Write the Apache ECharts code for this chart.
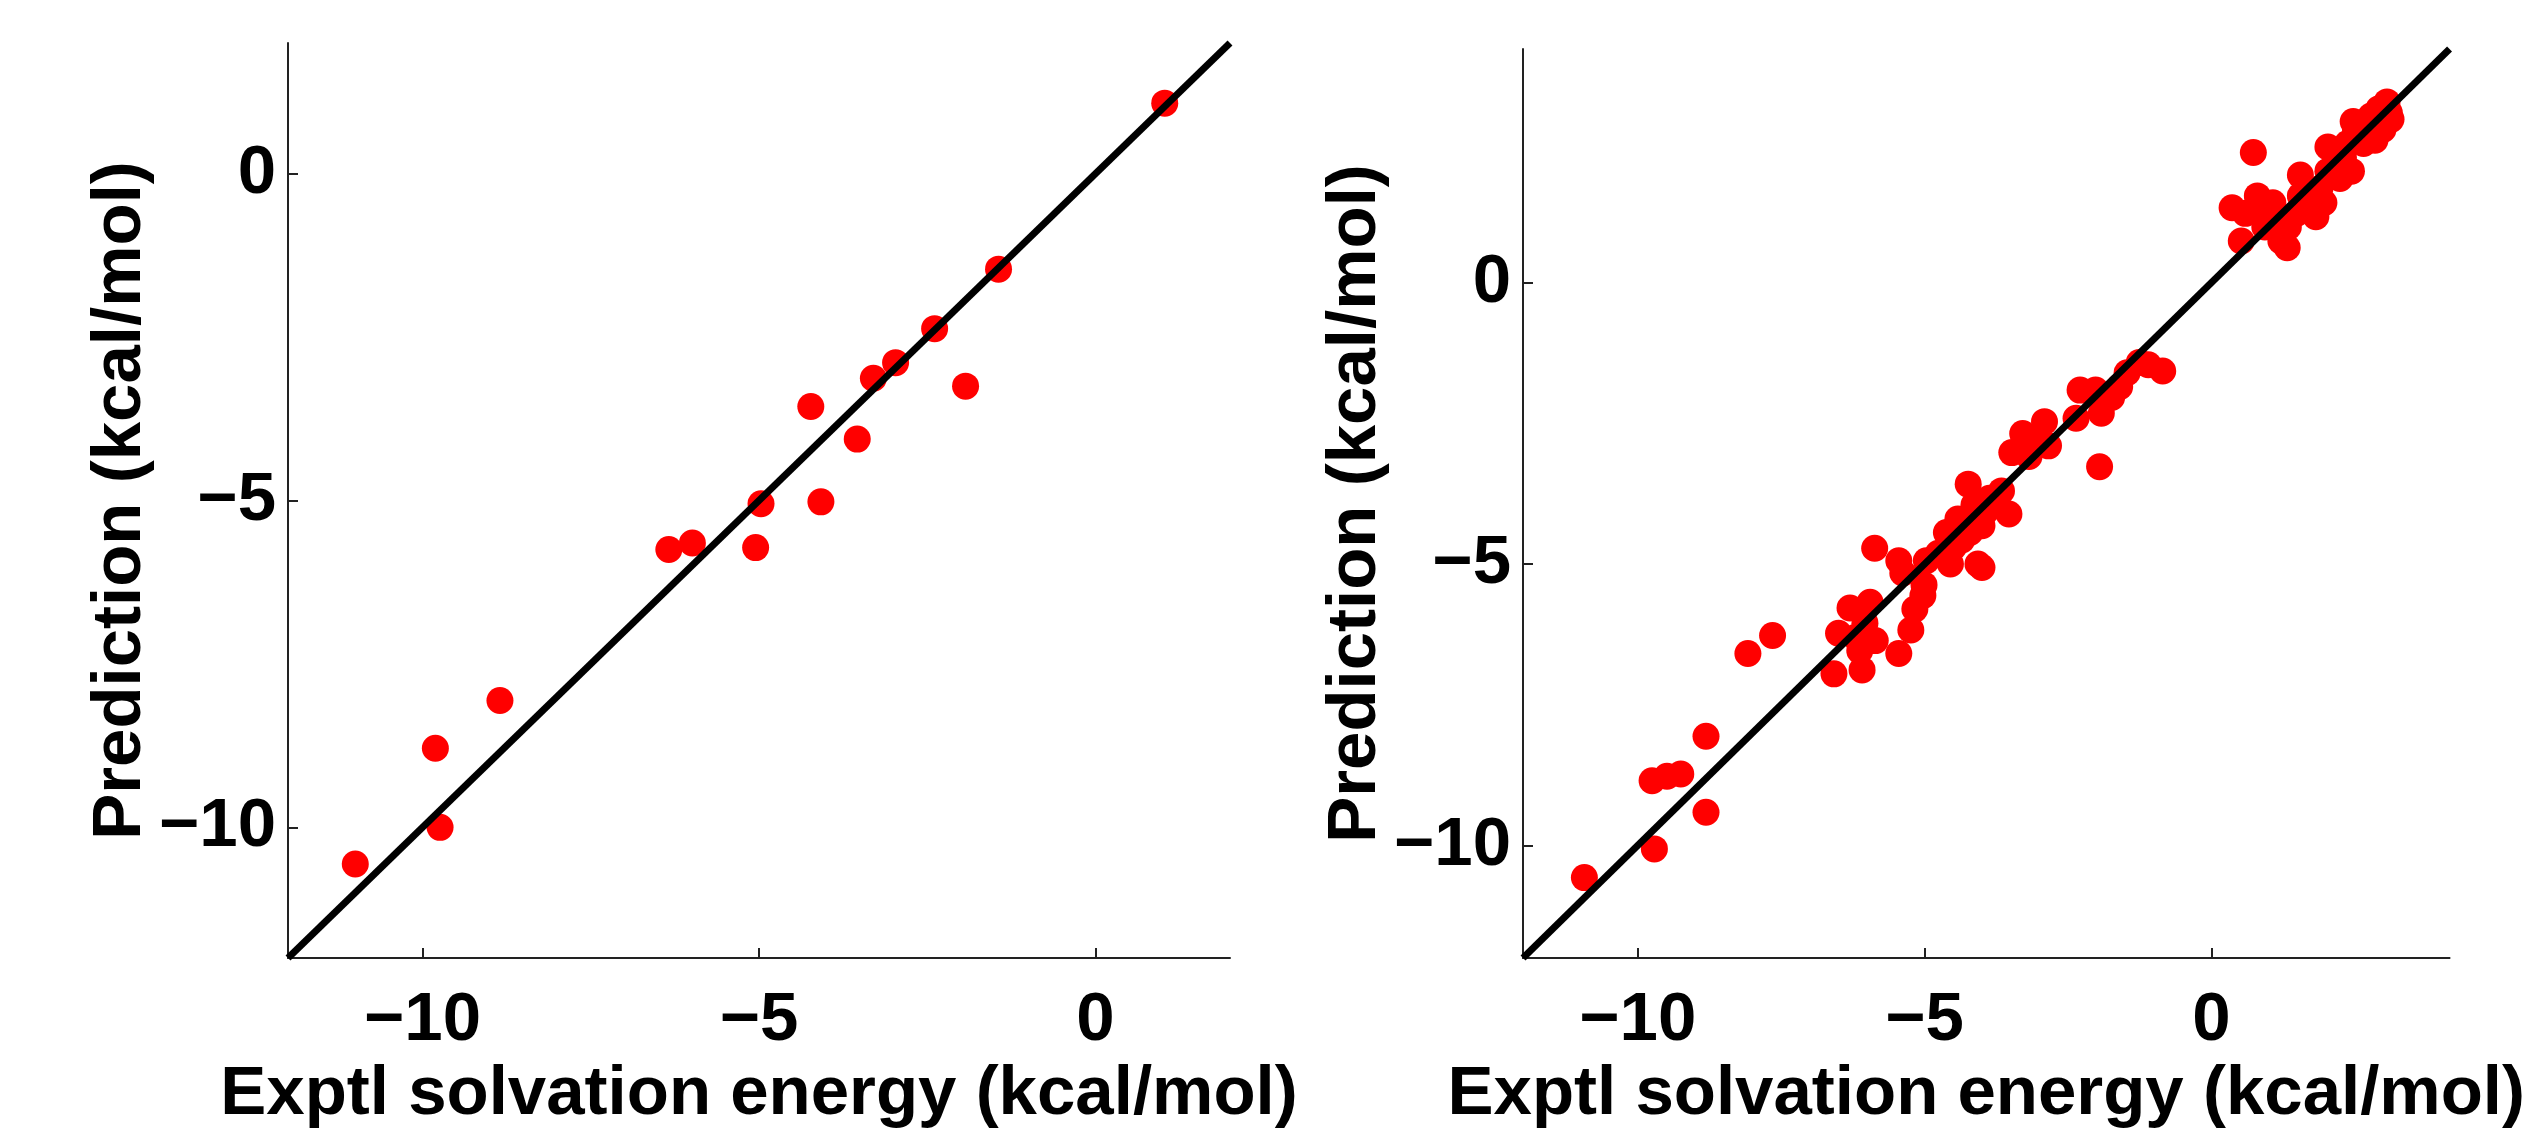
<!DOCTYPE html>
<html>
    <head>
        <meta charset="UTF-8" />
        <script src="https://cdn.jsdelivr.net/npm/echarts@6/dist/echarts.min.js"></script>
        <style>
            html, body { margin: 0; padding: 0; background: #fff; }
        </style>
    </head>
    <body>
        <div id="container" style="width: 2528px; height: 1134px;"></div>
        <script>
            // left panel: experimental vs predicted solvation energy
            var leftPoints = [
                [1.03, 1.08], [-1.44, -1.46], [-2.39, -2.37], [-2.97, -2.89],
                [-3.30, -3.13], [-1.93, -3.25], [-4.23, -3.56], [-3.54, -4.06],
                [-4.97, -5.05], [-4.08, -5.02], [-5.05, -5.72], [-5.99, -5.65],
                [-6.34, -5.75], [-8.85, -8.06], [-9.81, -8.79], [-9.74, -10.0],
                [-11.0, -10.56]
            ];

            // right panel
            var rightPoints = [
                [-10.93, -10.57], [-9.71, -10.06], [-9.75, -8.85], [-9.49, -8.77],
                [-9.25, -8.73], [-8.81, -9.41], [-8.81, -8.06], [-8.08, -6.59],
                [-7.65, -6.27], [-6.58, -6.95], [-6.50, -6.23], [-6.30, -5.78],
                [-6.13, -6.54], [-6.09, -6.88], [-5.95, -5.68], [-5.86, -6.36],
                [-6.04, -6.05], [-5.87, -4.72], [-6.20, -6.30], [-5.45, -6.59],
                [-5.45, -4.94], [-5.38, -5.16], [-5.24, -6.17], [-5.17, -5.80],
                [-5.03, -5.56], [-5.01, -5.37], [-4.97, -4.94], [-4.76, -4.81],
                [-4.62, -4.44], [-4.55, -5.00], [-4.49, -4.69], [-4.35, -4.57],
                [-4.42, -4.20], [-4.24, -3.58], [-4.21, -4.44], [-4.14, -3.95],
                [-4.07, -5.00], [-4.00, -5.06], [-4.00, -4.32], [-3.94, -4.07],
                [-3.87, -3.83], [-3.66, -3.70], [-3.53, -4.11], [-3.48, -3.02],
                [-3.29, -2.68], [-3.18, -3.09], [-3.11, -2.84], [-2.91, -2.47],
                [-2.84, -2.90], [-2.36, -2.41], [-2.29, -1.91], [-2.02, -1.91],
                [-1.92, -2.32], [-1.95, -3.27], [-1.74, -2.04], [-1.60, -1.85],
                [-1.47, -1.60], [-1.26, -1.42], [-1.10, -1.46], [-0.85, -1.57],
                [0.36, 1.33], [0.52, 0.74], [0.73, 2.31], [0.59, 1.23],
                [0.80, 1.54], [0.86, 1.23], [0.93, 0.99], [1.07, 1.42],
                [1.14, 1.11], [1.21, 0.74], [1.32, 0.62], [1.34, 0.99],
                [1.48, 1.23], [1.55, 1.54], [1.55, 1.91], [1.62, 1.36],
                [1.76, 1.48], [1.82, 1.17], [1.89, 1.67], [1.96, 1.42],
                [2.03, 1.98], [2.03, 2.41], [2.17, 2.10], [2.24, 1.85],
                [2.30, 2.22], [2.37, 2.47], [2.44, 1.98], [2.47, 2.86],
                [2.55, 2.65], [2.65, 2.47], [2.72, 2.78], [2.78, 2.96],
                [2.85, 2.53], [2.92, 3.09], [2.99, 2.72], [3.06, 3.21],
                [3.13, 2.90], [3.10, 3.02], [2.51, 2.72], [2.69, 2.62]
            ];

            // y = x reference lines, corner to corner
            var leftDiag = [[-12, -12], [2, 2]];
            var rightDiag = [[-12, -12], [4.15, 4.15]];

            var leftRange = [-12, 2];
            var rightRange = [-12, 4.15];
            var tickValues = [-10, -5, 0];

            var xTitle = 'Exptl solvation energy (kcal/mol)';
            var yTitle = 'Prediction (kcal/mol)';

            var fontFamily = '"Liberation Sans", Arial, Helvetica, sans-serif';
            var axisColor = '#222';

            function fmt(v) {
                return v < 0 ? '\u2212' + Math.abs(v) : String(v);
            }

            function makeAxis(idx, range, isX) {
                return {
                    type: 'value',
                    gridIndex: idx,
                    min: range[0],
                    max: range[1],
                    name: isX ? xTitle : yTitle,
                    nameLocation: 'middle',
                    nameGap: isX ? 80 : 118,
                    nameTextStyle: {
                        color: '#000',
                        fontSize: 69,
                        fontWeight: 'bold',
                        fontFamily: fontFamily
                    },
                    axisLine: { show: true, onZero: false, lineStyle: { color: axisColor, width: 2 } },
                    axisTick: {
                        show: true,
                        inside: true,
                        length: 10,
                        customValues: tickValues,
                        lineStyle: { color: axisColor, width: 2 }
                    },
                    axisLabel: {
                        show: true,
                        customValues: tickValues,
                        margin: isX ? 28 : 12,
                        color: '#000',
                        fontSize: 69,
                        fontWeight: 'bold',
                        fontFamily: fontFamily,
                        formatter: fmt
                    },
                    splitLine: { show: false }
                };
            }

            var dom = document.getElementById('container');
            var chart = echarts.init(dom, null, { renderer: 'canvas' });

            var option = {
                animation: false,
                backgroundColor: '#fff',
                grid: [
                    { left: 288, top: 43, width: 942, height: 939 },
                    { left: 1523, top: 49, width: 947, height: 943 }
                ],
                xAxis: [makeAxis(0, leftRange, true), makeAxis(1, rightRange, true)],
                yAxis: [makeAxis(0, leftRange, false), makeAxis(1, rightRange, false)],
                series: [
                    {
                        type: 'scatter',
                        xAxisIndex: 0, yAxisIndex: 0,
                        data: leftPoints,
                        symbolSize: 27,
                        itemStyle: { color: '#ff0000', opacity: 1 }
                    },
                    {
                        type: 'line',
                        xAxisIndex: 0, yAxisIndex: 0,
                        data: leftDiag,
                        symbol: 'none',
                        lineStyle: { color: '#000', width: 7 },
                        z: 5
                    },
                    {
                        type: 'scatter',
                        xAxisIndex: 1, yAxisIndex: 1,
                        data: rightPoints,
                        symbolSize: 27,
                        itemStyle: { color: '#ff0000', opacity: 1 }
                    },
                    {
                        type: 'line',
                        xAxisIndex: 1, yAxisIndex: 1,
                        data: rightDiag,
                        symbol: 'none',
                        lineStyle: { color: '#000', width: 7 },
                        z: 5
                    }
                ]
            };

            chart.setOption(option);
        </script>
    </body>
</html>
